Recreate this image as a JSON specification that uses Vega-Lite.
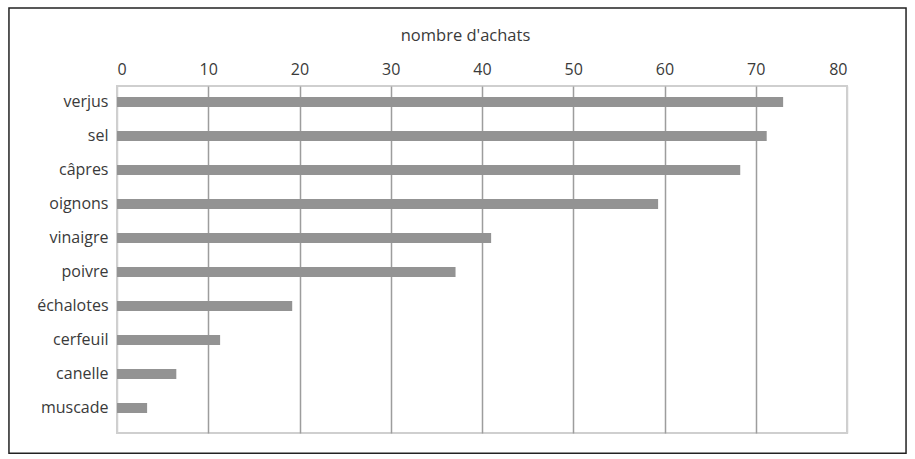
{
  "$schema": "https://vega.github.io/schema/vega-lite/v6.json",
  "width": 730,
  "height": 347,
  "padding": {"left": 8, "top": 7, "right": 0, "bottom": 0},
  "background": "white",
  "config": {
    "view": {"stroke": "#cfcfcf", "strokeWidth": 2},
    "font": "Open Sans"
  },
  "data": {
    "values": [
      {"ingredient": "verjus", "achats": 73.0},
      {"ingredient": "sel", "achats": 71.2},
      {"ingredient": "câpres", "achats": 68.3},
      {"ingredient": "oignons", "achats": 59.3},
      {"ingredient": "vinaigre", "achats": 41.0},
      {"ingredient": "poivre", "achats": 37.1},
      {"ingredient": "échalotes", "achats": 19.2},
      {"ingredient": "cerfeuil", "achats": 11.3},
      {"ingredient": "canelle", "achats": 6.5},
      {"ingredient": "muscade", "achats": 3.3}
    ]
  },
  "layer": [
    {
      "mark": {"type": "bar", "color": "#939393"},
      "encoding": {
        "y": {
          "field": "ingredient",
          "type": "nominal",
          "sort": null,
          "scale": {"paddingInner": 0.706, "paddingOuter": 0.456, "align": 0.355},
          "axis": {
            "title": null,
            "labelFontSize": 16,
            "labelColor": "#3a3a3a",
            "labelPadding": 9,
            "ticks": false,
            "domain": false
          }
        },
        "x": {
          "field": "achats",
          "type": "quantitative",
          "scale": {"domain": [0, 80], "nice": false},
          "axis": {
            "orient": "top",
            "title": "nombre d'achats",
            "values": [0, 10, 20, 30, 40, 50, 60, 70, 80],
            "grid": true,
            "ticks": false,
            "domain": false,
            "labelPadding": 9,
            "labelFontSize": 16,
            "labelColor": "#3a3a3a",
            "titleFontSize": 16.5,
            "titleFontWeight": "normal",
            "titleColor": "#3a3a3a",
            "titlePadding": 18,
            "titleX": 348,
            "gridColor": {"condition": {"test": "datum.value === 0 || datum.value === 80", "value": "#d0d0d0"}, "value": "#9d9d9d"},
            "gridWidth": 1.5
          }
        }
      }
    },
    {
      "data": {"values": [{}]},
      "mark": {"type": "rect", "fill": null, "stroke": "#222222", "strokeWidth": 1.5, "clip": false},
      "encoding": {
        "x": {"datum": -11.84, "type": "quantitative", "scale": {"domain": [0, 80], "nice": false}},
        "x2": {"datum": 86.47},
        "y": {"datum": 1.225, "type": "quantitative", "scale": {"domain": [0, 1], "nice": false}, "axis": null},
        "y2": {"datum": -0.058}
      }
    }
  ],
  "resolve": {"scale": {"y": "independent"}, "axis": {"y": "independent"}}
}
